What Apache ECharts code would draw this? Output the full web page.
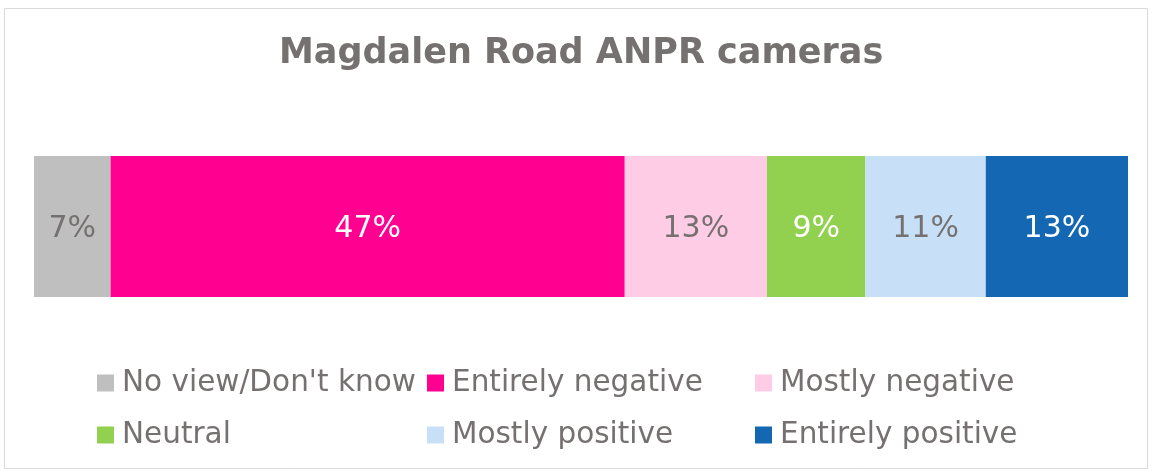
<!DOCTYPE html>
<html>
<head>
<meta charset="utf-8">
<script src="https://cdn.jsdelivr.net/npm/echarts@6/dist/echarts.min.js"></script>
<style>
  html, body { margin: 0; padding: 0; background: #ffffff; }
  #chart { width: 1153px; height: 472px; }
</style>
</head>
<body>
<div id="chart"></div>
<script>
// Survey responses, share of respondents (%)
const title = 'Magdalen Road ANPR cameras';
const categories = ['Magdalen Road ANPR cameras'];
const seriesNames = ['No view/Don\'t know', 'Entirely negative', 'Mostly negative', 'Neutral', 'Mostly positive', 'Entirely positive'];
const seriesValues = [7, 47, 13, 9, 11, 13];
const seriesColors = ['#BFBFBF', '#FF0090', '#FFCCE6', '#92D050', '#C8E0F7', '#1467B3'];
const labelColors = ['#767171', '#FFFFFF', '#767171', '#FFFFFF', '#767171', '#FFFFFF'];

const FONT = '"DejaVu Sans", Verdana, sans-serif';
const TEXT = '#767171';

const chart = echarts.init(document.getElementById('chart'), null, { renderer: 'canvas' });

// Legend in a 3 x 2 grid: one legend component per entry
const legendCols = [92, 422, 750];
const legendRows = [363, 415];
const legends = seriesNames.map((name, i) => ({
  data: [name],
  left: legendCols[i % 3],
  top: legendRows[Math.floor(i / 3)],
  itemWidth: 17,
  itemHeight: 17,
  itemGap: 0,
  icon: 'rect',
  selectedMode: false,
  textStyle: { fontFamily: FONT, fontSize: 29.5, color: TEXT, padding: [0, 0, 0, 3] }
}));

chart.setOption({
  animation: false,
  backgroundColor: '#ffffff',
  title: {
    text: title,
    left: 274,
    top: 31,
    textStyle: { fontFamily: FONT, fontSize: 35, fontWeight: 'bold', color: TEXT }
  },
  graphic: [{
    type: 'rect',
    shape: { x: 4.5, y: 8.5, width: 1143, height: 460 },
    style: { fill: 'none', stroke: '#D9D9D9', lineWidth: 1 },
    z: -1
  }],
  legend: legends,
  grid: { left: 34, right: 25, top: 156, height: 141 },
  xAxis: {
    type: 'value', min: 0, max: 100,
    show: false
  },
  yAxis: {
    type: 'category', data: categories,
    show: false
  },
  series: seriesNames.map((name, i) => ({
    name: name,
    type: 'bar',
    stack: 'total',
    barWidth: '100%',
    data: [seriesValues[i]],
    itemStyle: { color: seriesColors[i] },
    label: {
      show: true,
      position: 'inside',
      offset: [0, 3],
      formatter: '{c}%',
      fontFamily: FONT,
      fontSize: 30,
      color: labelColors[i]
    }
  }))
});
</script>
</body>
</html>
